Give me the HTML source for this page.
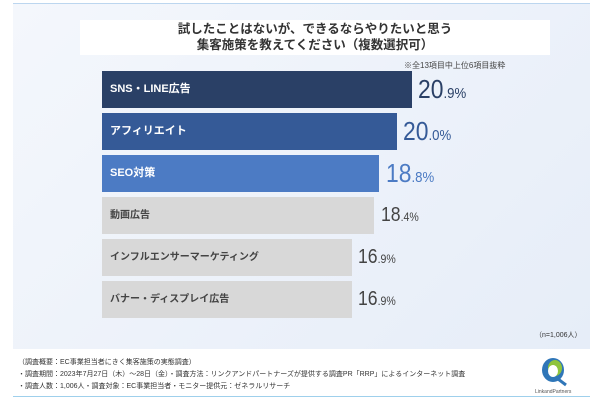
<!DOCTYPE html>
<html><head><meta charset="utf-8"><style>
body{margin:0;width:600px;height:400px;background:#fff;position:relative;overflow:hidden;font-family:"Liberation Sans","Noto Sans CJK JP",sans-serif}
.panel{position:absolute;left:13px;top:3px;width:577px;height:345px;background:linear-gradient(135deg,#f4f7fc,#e6edf8);border-top:1px solid #bcd6ef}
.title{position:absolute;left:80px;top:20px;width:470px;height:34px;background:#fff;text-align:center;font-size:12.5px;line-height:16px;color:#333;font-weight:bold;padding-top:1px}
.note{position:absolute;left:404px;top:60px;font-size:8px;color:#444}
.bar{position:absolute;left:102px;height:37px;font-size:11px;font-weight:bold;line-height:37px;padding-left:8px;box-sizing:border-box}
.v{position:absolute;font-weight:normal;line-height:37px;white-space:nowrap;transform:scaleX(0.88);transform-origin:left center}
.foot{position:absolute;left:18px;top:357px;font-size:7px;color:#333;line-height:12px}
.line{position:absolute;left:13px;top:396px;width:577px;height:1px;background:#9fd0ec}
</style></head><body>
<div class="panel"></div>
<div class="title">試したことはないが、できるならやりたいと思う<br>集客施策を教えてください（複数選択可）</div>
<div class="note">※全13項目中上位6項目抜粋</div>
<div class="bar" style="top:71px;width:310px;background:#2a4066;color:#fff">SNS・LINE広告</div>
<div class="v" style="left:418px;top:71px;color:#2a4066;font-size:26px">20<span style="font-size:15px">.9%</span></div>
<div class="bar" style="top:113px;width:295px;background:#355a97;color:#fff">アフィリエイト</div>
<div class="v" style="left:403px;top:113px;color:#355a97;font-size:26px">20<span style="font-size:15px">.0%</span></div>
<div class="bar" style="top:155px;width:277px;background:#4c7bc4;color:#fff">SEO対策</div>
<div class="v" style="left:386px;top:155px;color:#4c7bc4;font-size:26px">18<span style="font-size:15px">.8%</span></div>
<div class="bar" style="top:197px;width:272px;background:#d8d8d8;color:#444;font-size:10px">動画広告</div>
<div class="v" style="left:381px;top:197px;color:#444;font-size:20px">18<span style="font-size:12px">.4%</span></div>
<div class="bar" style="top:239px;width:250px;background:#d8d8d8;color:#444;font-size:10px">インフルエンサーマーケティング</div>
<div class="v" style="left:358px;top:239px;color:#444;font-size:20px">16<span style="font-size:12px">.9%</span></div>
<div class="bar" style="top:281px;width:250px;background:#d8d8d8;color:#444;font-size:10px">バナー・ディスプレイ広告</div>
<div class="v" style="left:358px;top:281px;color:#444;font-size:20px">16<span style="font-size:12px">.9%</span></div>
<div style="position:absolute;left:535px;top:330px;font-size:7px;color:#333">（n=1,006人）</div>
<div class="foot">（調査概要：EC事業担当者にきく集客施策の実態調査）<br>・調査期間：2023年7月27日（木）～28日（金）・調査方法：リンクアンドパートナーズが提供する調査PR「RRP」によるインターネット調査<br>・調査人数：1,006人・調査対象：EC事業担当者・モニター提供元：ゼネラルリサーチ</div>
<svg style="position:absolute;left:530px;top:355px" width="55" height="40"><ellipse cx="23" cy="15" rx="11" ry="12" fill="#2f76b8"/><ellipse cx="25" cy="13" rx="7" ry="8" fill="#8fc43c"/><ellipse cx="23" cy="16" rx="5" ry="6" fill="#fff"/><path d="M28 24 L36 30" stroke="#2f76b8" stroke-width="3"/><text x="5" y="38" font-size="5" fill="#555" font-family="Liberation Sans">LinkandPartners</text></svg>
<div class="line"></div>
</body></html>
